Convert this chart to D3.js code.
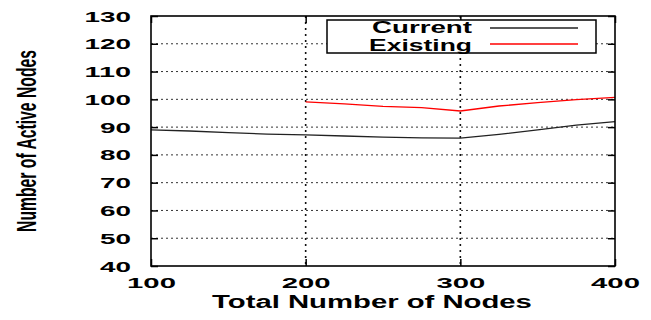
<!DOCTYPE html>
<html>
<head>
<meta charset="utf-8">
<script src="https://cdn.jsdelivr.net/npm/d3@7"></script>
<style>
  html, body { margin: 0; padding: 0; background: #fff; }
  svg { display: block; }
  text { font-family: "Liberation Sans", Arial, Helvetica, sans-serif; font-weight: bold; fill: #000; }
</style>
</head>
<body>
<svg id="chart" width="651" height="320"></svg>
<script>
// Number of active nodes vs. total number of nodes
const nodeCounts    = [100, 125, 150, 175, 200, 225, 250, 275, 300, 325, 350, 375, 400];
const currentActive = [89.0, 88.6, 88.0, 87.5, 87.2, 86.8, 86.4, 86.1, 86.0, 87.4, 89.0, 90.7, 92.0];
const existingNodes = [200, 225, 250, 275, 300, 325, 350, 375, 400];
const existingActive = [99.1, 98.4, 97.5, 97.0, 95.8, 97.6, 98.8, 99.9, 100.7];
const xTicks = [100, 200, 300, 400];
const yTicks = [40, 50, 60, 70, 80, 90, 100, 110, 120, 130];
const seriesNames = ["Current", "Existing"];
const seriesColors = ["#222222", "#ff0000"];
const xTitle = "Total Number of Nodes";
const yTitle = "Number of Active Nodes";

const svg = d3.select("#chart");
const plot = { left: 151, right: 615, top: 16, bottom: 266 };

const x = d3.scaleLinear().domain([100, 400]).range([plot.left, plot.right]);
const y = d3.scaleLinear().domain([40, 130]).range([plot.bottom, plot.top]);

// widen a text horizontally (glyphs included) so it spans the given width,
// keeping its anchor point fixed
function stretch(sel, width) {
  const node = sel.node();
  const natural = node.getComputedTextLength();
  const s = width / natural;
  const ax = +sel.attr("x") || 0;
  sel.attr("transform", `translate(${ax},0) scale(${s},1) translate(${-ax},0)`);
}

// grid
const grid = svg.append("g");
grid.selectAll("line.h").data(yTicks.filter(v => v > 40 && v < 130)).join("line")
  .attr("x1", plot.left).attr("x2", plot.right)
  .attr("y1", d => y(d)).attr("y2", d => y(d))
  .attr("stroke", "#333").attr("stroke-width", 1).attr("stroke-dasharray", "2,3");
grid.selectAll("line.v").data(xTicks.filter(v => v > 100 && v < 400)).join("line")
  .attr("y1", plot.top).attr("y2", plot.bottom)
  .attr("x1", d => x(d)).attr("x2", d => x(d))
  .attr("stroke", "#111").attr("stroke-width", 1.6).attr("stroke-dasharray", "2,4");

// series lines
const line = d3.line().x(d => x(d[0])).y(d => y(d[1]));
svg.append("path")
  .datum(nodeCounts.map((n, i) => [n, currentActive[i]]))
  .attr("d", line).attr("fill", "none")
  .attr("stroke", seriesColors[0]).attr("stroke-width", 1.3);
svg.append("path")
  .datum(existingNodes.map((n, i) => [n, existingActive[i]]))
  .attr("d", line).attr("fill", "none")
  .attr("stroke", seriesColors[1]).attr("stroke-width", 1.3);

// axes: inward ticks on all four sides
const tick = 7;
const left = svg.append("g").attr("transform", `translate(${plot.left},0)`)
  .call(d3.axisLeft(y).tickValues(yTicks).tickSizeInner(-tick).tickSizeOuter(0).tickPadding(20));
const bottom = svg.append("g").attr("transform", `translate(0,${plot.bottom})`)
  .call(d3.axisBottom(x).tickValues(xTicks).tickSizeInner(-tick).tickSizeOuter(0).tickPadding(12));
svg.append("g").attr("transform", `translate(${plot.right},0)`)
  .call(d3.axisRight(y).tickValues(yTicks).tickSizeInner(-tick).tickSizeOuter(0).tickFormat(""));
svg.append("g").attr("transform", `translate(0,${plot.top})`)
  .call(d3.axisTop(x).tickValues(xTicks).tickSizeInner(-tick).tickSizeOuter(0).tickFormat(""));

svg.selectAll("g").attr("font-family", null).attr("font-size", null);
left.selectAll("text").attr("font-size", 14).attr("dy", "0.36em")
  .each(function (d) { stretch(d3.select(this), String(d).length * 15.5); });
bottom.selectAll("text").attr("font-size", 14)
  .each(function (d) { stretch(d3.select(this), String(d).length * 16.3); });

svg.selectAll(".domain").remove();
svg.selectAll(".tick line").attr("stroke", "#000").attr("stroke-width", 1.5);

svg.append("rect")
  .attr("x", plot.left).attr("y", plot.top)
  .attr("width", plot.right - plot.left).attr("height", plot.bottom - plot.top)
  .attr("fill", "none").attr("stroke", "#000").attr("stroke-width", 1.6);

// legend
const legend = svg.append("g");
const lg = { x0: 327, y0: 20, x1: 596, y1: 53 };
legend.append("rect")
  .attr("x", lg.x0).attr("y", lg.y0).attr("width", lg.x1 - lg.x0).attr("height", lg.y1 - lg.y0)
  .attr("fill", "#fff").attr("stroke", "none");
const legendRows = [
  { name: seriesNames[0], color: seriesColors[0], base: 33, ly: 28, w: 100 },
  { name: seriesNames[1], color: seriesColors[1], base: 51, ly: 44, w: 103 }
];
legendRows.forEach(r => {
  const t = legend.append("text")
    .attr("x", 472).attr("y", r.base).attr("text-anchor", "end")
    .attr("font-size", 16).text(r.name);
  stretch(t, r.w);
  legend.append("line")
    .attr("x1", 490).attr("x2", 578).attr("y1", r.ly).attr("y2", r.ly)
    .attr("stroke", r.color).attr("stroke-width", 1.3);
});
legend.append("rect")
  .attr("x", lg.x0).attr("y", lg.y0).attr("width", lg.x1 - lg.x0).attr("height", lg.y1 - lg.y0)
  .attr("fill", "none").attr("stroke", "#000").attr("stroke-width", 1.5);

// axis titles
const xt = svg.append("text")
  .attr("x", 372).attr("y", 308).attr("text-anchor", "middle")
  .attr("font-size", 19).text(xTitle);
stretch(xt, 320);

const yt = svg.append("g").attr("transform", "translate(36,141) scale(2,1) rotate(-90)")
  .append("text").attr("x", 0).attr("y", 0).attr("text-anchor", "middle")
  .attr("font-size", 14).text(yTitle);
stretch(yt, 182);
</script>
</body>
</html>
